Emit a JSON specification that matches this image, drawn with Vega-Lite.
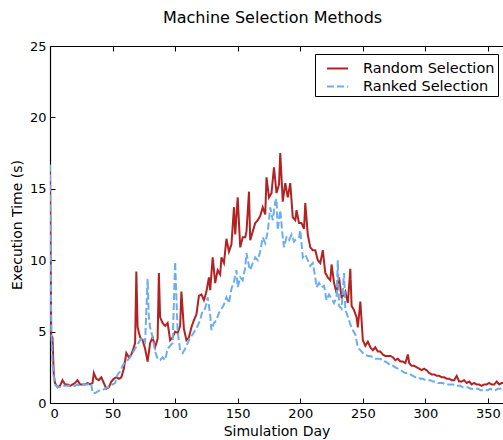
{
  "$schema": "https://vega.github.io/schema/vega-lite/v6.json",
  "autosize": {"type": "none"},
  "padding": {"left": 50, "top": 46, "right": 0, "bottom": 37},
  "width": 453,
  "height": 357,
  "title": {"text": "Machine Selection Methods", "fontSize": 16, "fontWeight": "normal", "font": "DejaVu Sans", "color": "black", "offset": 14, "anchor": "middle", "dx": -4},
  "data": {"values": [
{"day":0,"time":16.3,"method":"Random Selection"},{"day":1,"time":4.7,"method":"Random Selection"},{"day":2,"time":4.6,"method":"Random Selection"},{"day":3,"time":2.0,"method":"Random Selection"},{"day":4,"time":1.4,"method":"Random Selection"},{"day":6,"time":1.1,"method":"Random Selection"},{"day":8,"time":1.2,"method":"Random Selection"},{"day":10,"time":1.6,"method":"Random Selection"},{"day":12,"time":1.3,"method":"Random Selection"},{"day":14,"time":1.3,"method":"Random Selection"},{"day":16,"time":1.2,"method":"Random Selection"},{"day":18,"time":1.3,"method":"Random Selection"},{"day":20,"time":1.4,"method":"Random Selection"},{"day":22,"time":1.6,"method":"Random Selection"},{"day":24,"time":1.3,"method":"Random Selection"},{"day":26,"time":1.3,"method":"Random Selection"},{"day":28,"time":1.3,"method":"Random Selection"},{"day":30,"time":1.4,"method":"Random Selection"},{"day":32,"time":1.3,"method":"Random Selection"},{"day":34,"time":1.4,"method":"Random Selection"},{"day":35,"time":2.1,"method":"Random Selection"},{"day":37,"time":1.7,"method":"Random Selection"},{"day":39,"time":1.6,"method":"Random Selection"},{"day":41,"time":1.8,"method":"Random Selection"},{"day":43,"time":1.4,"method":"Random Selection"},{"day":45,"time":1.0,"method":"Random Selection"},{"day":47,"time":1.1,"method":"Random Selection"},{"day":49,"time":1.5,"method":"Random Selection"},{"day":51,"time":1.7,"method":"Random Selection"},{"day":53,"time":1.8,"method":"Random Selection"},{"day":55,"time":1.7,"method":"Random Selection"},{"day":57,"time":1.8,"method":"Random Selection"},{"day":59,"time":2.4,"method":"Random Selection"},{"day":61,"time":3.5,"method":"Random Selection"},{"day":63,"time":3.2,"method":"Random Selection"},{"day":65,"time":3.4,"method":"Random Selection"},{"day":67,"time":3.9,"method":"Random Selection"},{"day":68,"time":4.2,"method":"Random Selection"},{"day":69,"time":9.2,"method":"Random Selection"},{"day":70,"time":5.3,"method":"Random Selection"},{"day":72,"time":4.6,"method":"Random Selection"},{"day":74,"time":4.4,"method":"Random Selection"},{"day":76,"time":3.8,"method":"Random Selection"},{"day":78,"time":2.9,"method":"Random Selection"},{"day":80,"time":4.2,"method":"Random Selection"},{"day":82,"time":4.6,"method":"Random Selection"},{"day":84,"time":3.9,"method":"Random Selection"},{"day":86,"time":4.5,"method":"Random Selection"},{"day":87,"time":9.1,"method":"Random Selection"},{"day":88,"time":6.0,"method":"Random Selection"},{"day":90,"time":5.6,"method":"Random Selection"},{"day":92,"time":5.4,"method":"Random Selection"},{"day":94,"time":5.6,"method":"Random Selection"},{"day":96,"time":4.4,"method":"Random Selection"},{"day":98,"time":4.6,"method":"Random Selection"},{"day":100,"time":5.0,"method":"Random Selection"},{"day":102,"time":4.9,"method":"Random Selection"},{"day":104,"time":5.4,"method":"Random Selection"},{"day":105,"time":7.8,"method":"Random Selection"},{"day":107,"time":5.2,"method":"Random Selection"},{"day":109,"time":4.4,"method":"Random Selection"},{"day":111,"time":4.6,"method":"Random Selection"},{"day":113,"time":5.3,"method":"Random Selection"},{"day":115,"time":5.8,"method":"Random Selection"},{"day":117,"time":6.2,"method":"Random Selection"},{"day":119,"time":7.5,"method":"Random Selection"},{"day":121,"time":7.6,"method":"Random Selection"},{"day":123,"time":7.2,"method":"Random Selection"},{"day":125,"time":7.8,"method":"Random Selection"},{"day":127,"time":8.8,"method":"Random Selection"},{"day":128,"time":7.9,"method":"Random Selection"},{"day":130,"time":10.2,"method":"Random Selection"},{"day":132,"time":8.4,"method":"Random Selection"},{"day":134,"time":9.3,"method":"Random Selection"},{"day":136,"time":9.0,"method":"Random Selection"},{"day":137,"time":10.2,"method":"Random Selection"},{"day":139,"time":9.8,"method":"Random Selection"},{"day":141,"time":11.5,"method":"Random Selection"},{"day":143,"time":10.6,"method":"Random Selection"},{"day":145,"time":11.1,"method":"Random Selection"},{"day":147,"time":13.7,"method":"Random Selection"},{"day":148,"time":11.8,"method":"Random Selection"},{"day":150,"time":14.4,"method":"Random Selection"},{"day":152,"time":10.9,"method":"Random Selection"},{"day":154,"time":11.6,"method":"Random Selection"},{"day":156,"time":11.6,"method":"Random Selection"},{"day":157,"time":12.0,"method":"Random Selection"},{"day":159,"time":14.8,"method":"Random Selection"},{"day":160,"time":11.4,"method":"Random Selection"},{"day":162,"time":12.0,"method":"Random Selection"},{"day":164,"time":12.6,"method":"Random Selection"},{"day":166,"time":12.8,"method":"Random Selection"},{"day":168,"time":13.1,"method":"Random Selection"},{"day":170,"time":13.7,"method":"Random Selection"},{"day":172,"time":13.2,"method":"Random Selection"},{"day":173,"time":15.8,"method":"Random Selection"},{"day":175,"time":14.4,"method":"Random Selection"},{"day":177,"time":14.7,"method":"Random Selection"},{"day":179,"time":16.5,"method":"Random Selection"},{"day":181,"time":14.7,"method":"Random Selection"},{"day":183,"time":15.3,"method":"Random Selection"},{"day":184,"time":17.5,"method":"Random Selection"},{"day":186,"time":14.1,"method":"Random Selection"},{"day":188,"time":15.4,"method":"Random Selection"},{"day":190,"time":14.4,"method":"Random Selection"},{"day":192,"time":15.4,"method":"Random Selection"},{"day":194,"time":13.0,"method":"Random Selection"},{"day":196,"time":12.8,"method":"Random Selection"},{"day":197,"time":13.5,"method":"Random Selection"},{"day":199,"time":12.6,"method":"Random Selection"},{"day":201,"time":12.6,"method":"Random Selection"},{"day":203,"time":12.2,"method":"Random Selection"},{"day":204,"time":14.0,"method":"Random Selection"},{"day":206,"time":11.8,"method":"Random Selection"},{"day":208,"time":10.9,"method":"Random Selection"},{"day":210,"time":10.7,"method":"Random Selection"},{"day":212,"time":10.7,"method":"Random Selection"},{"day":214,"time":10.0,"method":"Random Selection"},{"day":216,"time":9.8,"method":"Random Selection"},{"day":218,"time":10.7,"method":"Random Selection"},{"day":220,"time":9.1,"method":"Random Selection"},{"day":222,"time":8.8,"method":"Random Selection"},{"day":224,"time":8.6,"method":"Random Selection"},{"day":225,"time":9.7,"method":"Random Selection"},{"day":227,"time":8.4,"method":"Random Selection"},{"day":229,"time":7.7,"method":"Random Selection"},{"day":231,"time":8.8,"method":"Random Selection"},{"day":233,"time":7.4,"method":"Random Selection"},{"day":235,"time":7.6,"method":"Random Selection"},{"day":236,"time":7.8,"method":"Random Selection"},{"day":238,"time":7.0,"method":"Random Selection"},{"day":240,"time":9.4,"method":"Random Selection"},{"day":241,"time":6.8,"method":"Random Selection"},{"day":243,"time":6.5,"method":"Random Selection"},{"day":245,"time":6.0,"method":"Random Selection"},{"day":246,"time":5.3,"method":"Random Selection"},{"day":248,"time":7.1,"method":"Random Selection"},{"day":250,"time":4.4,"method":"Random Selection"},{"day":252,"time":4.0,"method":"Random Selection"},{"day":254,"time":4.3,"method":"Random Selection"},{"day":256,"time":3.9,"method":"Random Selection"},{"day":258,"time":3.7,"method":"Random Selection"},{"day":260,"time":3.9,"method":"Random Selection"},{"day":262,"time":3.6,"method":"Random Selection"},{"day":264,"time":3.6,"method":"Random Selection"},{"day":266,"time":3.4,"method":"Random Selection"},{"day":268,"time":3.3,"method":"Random Selection"},{"day":270,"time":3.3,"method":"Random Selection"},{"day":272,"time":3.3,"method":"Random Selection"},{"day":274,"time":3.2,"method":"Random Selection"},{"day":276,"time":3.0,"method":"Random Selection"},{"day":278,"time":3.1,"method":"Random Selection"},{"day":280,"time":2.9,"method":"Random Selection"},{"day":282,"time":2.9,"method":"Random Selection"},{"day":284,"time":2.8,"method":"Random Selection"},{"day":286,"time":3.4,"method":"Random Selection"},{"day":287,"time":2.8,"method":"Random Selection"},{"day":289,"time":2.6,"method":"Random Selection"},{"day":291,"time":2.6,"method":"Random Selection"},{"day":293,"time":2.5,"method":"Random Selection"},{"day":295,"time":2.4,"method":"Random Selection"},{"day":297,"time":2.3,"method":"Random Selection"},{"day":299,"time":2.4,"method":"Random Selection"},{"day":301,"time":2.3,"method":"Random Selection"},{"day":303,"time":2.1,"method":"Random Selection"},{"day":305,"time":2.0,"method":"Random Selection"},{"day":307,"time":2.0,"method":"Random Selection"},{"day":309,"time":1.9,"method":"Random Selection"},{"day":311,"time":1.9,"method":"Random Selection"},{"day":313,"time":1.8,"method":"Random Selection"},{"day":315,"time":1.8,"method":"Random Selection"},{"day":317,"time":1.7,"method":"Random Selection"},{"day":319,"time":1.7,"method":"Random Selection"},{"day":321,"time":1.6,"method":"Random Selection"},{"day":323,"time":1.6,"method":"Random Selection"},{"day":325,"time":1.9,"method":"Random Selection"},{"day":327,"time":1.5,"method":"Random Selection"},{"day":329,"time":1.5,"method":"Random Selection"},{"day":331,"time":1.6,"method":"Random Selection"},{"day":333,"time":1.4,"method":"Random Selection"},{"day":335,"time":1.5,"method":"Random Selection"},{"day":337,"time":1.3,"method":"Random Selection"},{"day":339,"time":1.4,"method":"Random Selection"},{"day":341,"time":1.3,"method":"Random Selection"},{"day":343,"time":1.3,"method":"Random Selection"},{"day":345,"time":1.2,"method":"Random Selection"},{"day":347,"time":1.3,"method":"Random Selection"},{"day":349,"time":1.3,"method":"Random Selection"},{"day":351,"time":1.4,"method":"Random Selection"},{"day":353,"time":1.3,"method":"Random Selection"},{"day":355,"time":1.3,"method":"Random Selection"},{"day":357,"time":1.5,"method":"Random Selection"},{"day":359,"time":1.3,"method":"Random Selection"},{"day":361,"time":1.4,"method":"Random Selection"},{"day":362,"time":1.4,"method":"Random Selection"},
{"day":0,"time":16.7,"method":"Ranked Selection"},{"day":1,"time":5.0,"method":"Ranked Selection"},{"day":2,"time":2.8,"method":"Ranked Selection"},{"day":3,"time":1.8,"method":"Ranked Selection"},{"day":4,"time":1.3,"method":"Ranked Selection"},{"day":6,"time":1.1,"method":"Ranked Selection"},{"day":8,"time":1.1,"method":"Ranked Selection"},{"day":10,"time":1.2,"method":"Ranked Selection"},{"day":12,"time":1.2,"method":"Ranked Selection"},{"day":14,"time":1.2,"method":"Ranked Selection"},{"day":16,"time":1.2,"method":"Ranked Selection"},{"day":18,"time":1.2,"method":"Ranked Selection"},{"day":20,"time":1.2,"method":"Ranked Selection"},{"day":22,"time":1.3,"method":"Ranked Selection"},{"day":24,"time":1.2,"method":"Ranked Selection"},{"day":26,"time":1.3,"method":"Ranked Selection"},{"day":28,"time":1.3,"method":"Ranked Selection"},{"day":30,"time":1.3,"method":"Ranked Selection"},{"day":32,"time":1.4,"method":"Ranked Selection"},{"day":33,"time":1.3,"method":"Ranked Selection"},{"day":34,"time":0.7,"method":"Ranked Selection"},{"day":36,"time":0.7,"method":"Ranked Selection"},{"day":38,"time":0.8,"method":"Ranked Selection"},{"day":40,"time":0.9,"method":"Ranked Selection"},{"day":42,"time":0.9,"method":"Ranked Selection"},{"day":44,"time":1.0,"method":"Ranked Selection"},{"day":46,"time":1.1,"method":"Ranked Selection"},{"day":48,"time":1.2,"method":"Ranked Selection"},{"day":50,"time":1.3,"method":"Ranked Selection"},{"day":52,"time":1.4,"method":"Ranked Selection"},{"day":54,"time":2.0,"method":"Ranked Selection"},{"day":56,"time":2.2,"method":"Ranked Selection"},{"day":58,"time":2.6,"method":"Ranked Selection"},{"day":60,"time":2.9,"method":"Ranked Selection"},{"day":62,"time":3.0,"method":"Ranked Selection"},{"day":64,"time":3.2,"method":"Ranked Selection"},{"day":66,"time":3.5,"method":"Ranked Selection"},{"day":68,"time":3.8,"method":"Ranked Selection"},{"day":70,"time":4.1,"method":"Ranked Selection"},{"day":72,"time":4.4,"method":"Ranked Selection"},{"day":74,"time":4.6,"method":"Ranked Selection"},{"day":76,"time":4.3,"method":"Ranked Selection"},{"day":78,"time":8.7,"method":"Ranked Selection"},{"day":79,"time":6.0,"method":"Ranked Selection"},{"day":80,"time":5.3,"method":"Ranked Selection"},{"day":82,"time":4.6,"method":"Ranked Selection"},{"day":84,"time":3.6,"method":"Ranked Selection"},{"day":86,"time":3.1,"method":"Ranked Selection"},{"day":88,"time":3.0,"method":"Ranked Selection"},{"day":90,"time":3.2,"method":"Ranked Selection"},{"day":92,"time":3.0,"method":"Ranked Selection"},{"day":94,"time":3.8,"method":"Ranked Selection"},{"day":96,"time":4.0,"method":"Ranked Selection"},{"day":98,"time":4.2,"method":"Ranked Selection"},{"day":100,"time":9.9,"method":"Ranked Selection"},{"day":102,"time":5.0,"method":"Ranked Selection"},{"day":104,"time":3.7,"method":"Ranked Selection"},{"day":106,"time":3.5,"method":"Ranked Selection"},{"day":108,"time":3.8,"method":"Ranked Selection"},{"day":110,"time":4.2,"method":"Ranked Selection"},{"day":112,"time":4.6,"method":"Ranked Selection"},{"day":114,"time":4.8,"method":"Ranked Selection"},{"day":116,"time":5.1,"method":"Ranked Selection"},{"day":118,"time":5.4,"method":"Ranked Selection"},{"day":120,"time":5.8,"method":"Ranked Selection"},{"day":122,"time":6.5,"method":"Ranked Selection"},{"day":124,"time":6.6,"method":"Ranked Selection"},{"day":126,"time":7.4,"method":"Ranked Selection"},{"day":128,"time":6.2,"method":"Ranked Selection"},{"day":129,"time":5.1,"method":"Ranked Selection"},{"day":131,"time":5.6,"method":"Ranked Selection"},{"day":133,"time":5.8,"method":"Ranked Selection"},{"day":135,"time":6.3,"method":"Ranked Selection"},{"day":137,"time":6.6,"method":"Ranked Selection"},{"day":139,"time":6.9,"method":"Ranked Selection"},{"day":141,"time":7.4,"method":"Ranked Selection"},{"day":143,"time":7.0,"method":"Ranked Selection"},{"day":145,"time":8.0,"method":"Ranked Selection"},{"day":147,"time":8.5,"method":"Ranked Selection"},{"day":149,"time":9.3,"method":"Ranked Selection"},{"day":150,"time":8.1,"method":"Ranked Selection"},{"day":152,"time":8.8,"method":"Ranked Selection"},{"day":154,"time":8.6,"method":"Ranked Selection"},{"day":156,"time":9.5,"method":"Ranked Selection"},{"day":157,"time":10.5,"method":"Ranked Selection"},{"day":159,"time":9.6,"method":"Ranked Selection"},{"day":160,"time":9.3,"method":"Ranked Selection"},{"day":162,"time":9.8,"method":"Ranked Selection"},{"day":164,"time":10.2,"method":"Ranked Selection"},{"day":166,"time":10.0,"method":"Ranked Selection"},{"day":168,"time":10.6,"method":"Ranked Selection"},{"day":170,"time":11.6,"method":"Ranked Selection"},{"day":172,"time":11.2,"method":"Ranked Selection"},{"day":174,"time":12.0,"method":"Ranked Selection"},{"day":176,"time":13.7,"method":"Ranked Selection"},{"day":178,"time":12.8,"method":"Ranked Selection"},{"day":180,"time":14.1,"method":"Ranked Selection"},{"day":181,"time":14.3,"method":"Ranked Selection"},{"day":182,"time":12.1,"method":"Ranked Selection"},{"day":184,"time":13.5,"method":"Ranked Selection"},{"day":186,"time":11.6,"method":"Ranked Selection"},{"day":187,"time":10.9,"method":"Ranked Selection"},{"day":189,"time":11.6,"method":"Ranked Selection"},{"day":191,"time":11.4,"method":"Ranked Selection"},{"day":193,"time":11.8,"method":"Ranked Selection"},{"day":195,"time":11.3,"method":"Ranked Selection"},{"day":197,"time":11.5,"method":"Ranked Selection"},{"day":199,"time":11.6,"method":"Ranked Selection"},{"day":200,"time":12.1,"method":"Ranked Selection"},{"day":202,"time":10.2,"method":"Ranked Selection"},{"day":204,"time":10.4,"method":"Ranked Selection"},{"day":206,"time":10.0,"method":"Ranked Selection"},{"day":208,"time":9.6,"method":"Ranked Selection"},{"day":210,"time":9.8,"method":"Ranked Selection"},{"day":212,"time":8.8,"method":"Ranked Selection"},{"day":213,"time":8.1,"method":"Ranked Selection"},{"day":215,"time":8.4,"method":"Ranked Selection"},{"day":217,"time":8.1,"method":"Ranked Selection"},{"day":219,"time":8.2,"method":"Ranked Selection"},{"day":221,"time":7.2,"method":"Ranked Selection"},{"day":223,"time":7.6,"method":"Ranked Selection"},{"day":225,"time":7.3,"method":"Ranked Selection"},{"day":227,"time":7.0,"method":"Ranked Selection"},{"day":229,"time":7.4,"method":"Ranked Selection"},{"day":230,"time":10.0,"method":"Ranked Selection"},{"day":231,"time":6.8,"method":"Ranked Selection"},{"day":233,"time":6.6,"method":"Ranked Selection"},{"day":235,"time":9.1,"method":"Ranked Selection"},{"day":236,"time":6.5,"method":"Ranked Selection"},{"day":237,"time":6.3,"method":"Ranked Selection"},{"day":239,"time":5.8,"method":"Ranked Selection"},{"day":240,"time":5.5,"method":"Ranked Selection"},{"day":242,"time":5.1,"method":"Ranked Selection"},{"day":244,"time":4.8,"method":"Ranked Selection"},{"day":246,"time":3.9,"method":"Ranked Selection"},{"day":248,"time":3.7,"method":"Ranked Selection"},{"day":250,"time":3.5,"method":"Ranked Selection"},{"day":252,"time":3.4,"method":"Ranked Selection"},{"day":254,"time":3.3,"method":"Ranked Selection"},{"day":256,"time":3.3,"method":"Ranked Selection"},{"day":258,"time":3.2,"method":"Ranked Selection"},{"day":260,"time":3.1,"method":"Ranked Selection"},{"day":262,"time":3.1,"method":"Ranked Selection"},{"day":264,"time":3.1,"method":"Ranked Selection"},{"day":266,"time":2.9,"method":"Ranked Selection"},{"day":268,"time":2.9,"method":"Ranked Selection"},{"day":270,"time":2.8,"method":"Ranked Selection"},{"day":272,"time":2.6,"method":"Ranked Selection"},{"day":274,"time":2.6,"method":"Ranked Selection"},{"day":276,"time":2.5,"method":"Ranked Selection"},{"day":278,"time":2.4,"method":"Ranked Selection"},{"day":280,"time":2.3,"method":"Ranked Selection"},{"day":282,"time":2.2,"method":"Ranked Selection"},{"day":284,"time":2.1,"method":"Ranked Selection"},{"day":286,"time":2.1,"method":"Ranked Selection"},{"day":288,"time":2.0,"method":"Ranked Selection"},{"day":290,"time":1.9,"method":"Ranked Selection"},{"day":292,"time":1.8,"method":"Ranked Selection"},{"day":294,"time":1.8,"method":"Ranked Selection"},{"day":296,"time":1.7,"method":"Ranked Selection"},{"day":298,"time":1.7,"method":"Ranked Selection"},{"day":300,"time":1.6,"method":"Ranked Selection"},{"day":302,"time":1.6,"method":"Ranked Selection"},{"day":304,"time":1.6,"method":"Ranked Selection"},{"day":306,"time":1.5,"method":"Ranked Selection"},{"day":308,"time":1.5,"method":"Ranked Selection"},{"day":310,"time":1.4,"method":"Ranked Selection"},{"day":312,"time":1.4,"method":"Ranked Selection"},{"day":314,"time":1.4,"method":"Ranked Selection"},{"day":316,"time":1.3,"method":"Ranked Selection"},{"day":318,"time":1.3,"method":"Ranked Selection"},{"day":320,"time":1.3,"method":"Ranked Selection"},{"day":322,"time":1.3,"method":"Ranked Selection"},{"day":324,"time":1.2,"method":"Ranked Selection"},{"day":326,"time":1.2,"method":"Ranked Selection"},{"day":328,"time":1.2,"method":"Ranked Selection"},{"day":330,"time":1.1,"method":"Ranked Selection"},{"day":332,"time":1.1,"method":"Ranked Selection"},{"day":334,"time":1.1,"method":"Ranked Selection"},{"day":336,"time":1.0,"method":"Ranked Selection"},{"day":338,"time":1.0,"method":"Ranked Selection"},{"day":340,"time":1.0,"method":"Ranked Selection"},{"day":342,"time":1.0,"method":"Ranked Selection"},{"day":344,"time":0.9,"method":"Ranked Selection"},{"day":346,"time":0.9,"method":"Ranked Selection"},{"day":348,"time":0.9,"method":"Ranked Selection"},{"day":350,"time":0.9,"method":"Ranked Selection"},{"day":352,"time":1.0,"method":"Ranked Selection"},{"day":354,"time":0.9,"method":"Ranked Selection"},{"day":356,"time":0.9,"method":"Ranked Selection"},{"day":358,"time":1.0,"method":"Ranked Selection"},{"day":360,"time":1.0,"method":"Ranked Selection"},{"day":362,"time":1.05,"method":"Ranked Selection"}
  ]},
  "layer": [
    {
      "mark": {"type": "line", "strokeWidth": 2, "clip": true},
      "encoding": {
        "x": {"field": "day", "type": "quantitative", "scale": {"domain": [0, 362], "nice": false, "zero": false},
              "axis": {"orient": "bottom", "title": "Simulation Day", "values": [0,50,100,150,200,250,300,350], "titlePadding": 4}},
        "y": {"field": "time", "type": "quantitative", "scale": {"domain": [0, 25], "nice": false},
              "axis": {"orient": "left", "title": "Execution Time (s)", "values": [0,5,10,15,20,25], "titlePadding": 5}},
        "color": {"field": "method", "type": "nominal",
                  "scale": {"domain": ["Random Selection", "Ranked Selection"], "range": ["#b22222", "#6aaef0"]},
                  "legend": {"title": null, "orient": "none", "legendX": 265, "legendY": 8, "direction": "vertical",
                             "strokeColor": "black", "fillColor": "white", "padding": 3, "cornerRadius": 0,
                             "symbolType": "stroke", "symbolSize": 440, "symbolStrokeWidth": 2,
                             "labelFontSize": 14.5, "labelFont": "DejaVu Sans", "labelColor": "black", "labelOffset": 14, "rowPadding": 0, "symbolOffset": 8}},
        "strokeDash": {"field": "method", "type": "nominal",
                       "scale": {"domain": ["Random Selection", "Ranked Selection"], "range": [[1, 0], [7, 3]]},
                       "legend": {"title": null, "orient": "none", "legendX": 265, "legendY": 8}}
      }
    },
    {
      "mark": {"type": "line", "opacity": 0},
      "encoding": {
        "x": {"field": "day", "type": "quantitative", "axis": {"orient": "top", "title": null, "labels": false, "values": [0,50,100,150,200,250,300,350]}},
        "y": {"field": "time", "type": "quantitative"}
      }
    }
  ],
  "resolve": {"axis": {"x": "independent"}},
  "config": {
    "font": "DejaVu Sans",
    "view": {"stroke": null},
    "axis": {"grid": false, "domainColor": "black", "domainWidth": 1.2, "tickColor": "black", "labelColor": "black", "titleColor": "black",
             "labelFontSize": 13, "titleFontSize": 14, "titleFontWeight": "normal", "tickSize": -5, "labelPadding": 9, "labelFont": "DejaVu Sans", "titleFont": "DejaVu Sans"}
  }
}
